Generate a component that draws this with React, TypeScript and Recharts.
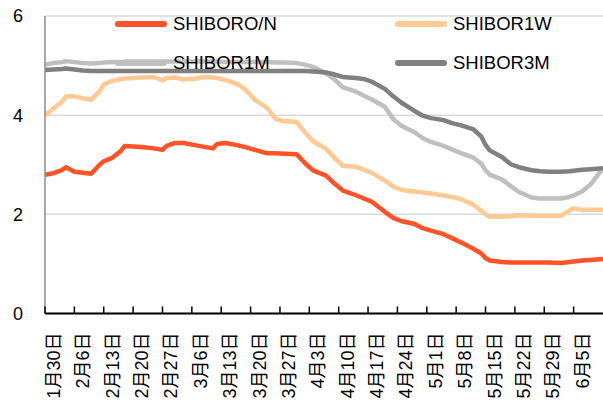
import React from "react";
import { LineChart, Line, XAxis, YAxis, CartesianGrid, Legend } from "recharts";

// Observation dates (2015, month/day)
const dates = [
  "1/30", "2/1", "2/3", "2/4", "2/6", "2/8", "2/10", "2/12", "2/13", "2/15",
  "2/17", "2/18", "2/20", "2/22", "2/25", "2/27", "2/28", "3/2", "3/4", "3/7",
  "3/9", "3/11", "3/12", "3/14", "3/17", "3/19", "3/21", "3/24", "3/26", "3/28",
  "3/31", "4/2", "4/4", "4/7", "4/9", "4/11", "4/14", "4/16", "4/18", "4/21",
  "4/23", "4/25", "4/28", "4/30", "5/2", "5/5", "5/7", "5/9", "5/12", "5/14",
  "5/15", "5/16", "5/19", "5/21", "5/23", "5/26", "5/28", "5/30", "6/2", "6/4",
  "6/5", "6/7", "6/9", "6/12",
];

const shiborON = [
  2.80, 2.83, 2.89, 2.95, 2.86, 2.84, 2.82, 3.00, 3.07, 3.14,
  3.27, 3.38, 3.37, 3.36, 3.33, 3.30, 3.38, 3.44, 3.44, 3.39,
  3.36, 3.33, 3.42, 3.44, 3.39, 3.35, 3.30, 3.23, 3.23, 3.22,
  3.21, 3.03, 2.88, 2.78, 2.62, 2.48, 2.39, 2.32, 2.25, 2.05,
  1.93, 1.86, 1.81, 1.72, 1.67, 1.60, 1.52, 1.44, 1.31, 1.21,
  1.12, 1.07, 1.04, 1.03, 1.03, 1.03, 1.03, 1.03, 1.02, 1.04,
  1.05, 1.07, 1.08, 1.10,
];

const shibor1W = [
  4.00, 4.13, 4.27, 4.38, 4.38, 4.34, 4.31, 4.48, 4.62, 4.69,
  4.73, 4.74, 4.75, 4.76, 4.77, 4.70, 4.75, 4.76, 4.72, 4.74,
  4.77, 4.76, 4.75, 4.71, 4.62, 4.50, 4.31, 4.14, 3.92, 3.88,
  3.86, 3.65, 3.47, 3.32, 3.14, 2.98, 2.96, 2.90, 2.83, 2.68,
  2.56, 2.49, 2.46, 2.44, 2.42, 2.38, 2.35, 2.31, 2.20, 2.07,
  2.00, 1.95, 1.95, 1.96, 1.98, 1.97, 1.97, 1.97, 1.97, 2.08,
  2.12, 2.09, 2.09, 2.09,
];

const shibor1M = [
  5.02, 5.05, 5.07, 5.09, 5.07, 5.05, 5.04, 5.05, 5.06, 5.07,
  5.07, 5.08, 5.08, 5.08, 5.08, 5.08, 5.08, 5.08, 5.08, 5.08,
  5.08, 5.08, 5.08, 5.07, 5.07, 5.07, 5.07, 5.07, 5.06, 5.06,
  5.05, 5.02, 4.97, 4.84, 4.72, 4.56, 4.48, 4.39, 4.31, 4.17,
  3.92, 3.78, 3.66, 3.54, 3.46, 3.38, 3.31, 3.24, 3.15, 3.02,
  2.89, 2.80, 2.70, 2.57, 2.45, 2.34, 2.32, 2.32, 2.32, 2.35,
  2.38, 2.46, 2.60, 2.93,
];

const shibor3M = [
  4.91, 4.92, 4.93, 4.94, 4.92, 4.90, 4.89, 4.89, 4.89, 4.89,
  4.89, 4.89, 4.89, 4.89, 4.89, 4.89, 4.89, 4.89, 4.89, 4.89,
  4.89, 4.89, 4.89, 4.89, 4.89, 4.89, 4.89, 4.89, 4.89, 4.89,
  4.89, 4.89, 4.88, 4.86, 4.82, 4.77, 4.75, 4.73, 4.67, 4.53,
  4.38, 4.25, 4.09, 3.99, 3.94, 3.90, 3.84, 3.80, 3.72, 3.57,
  3.40, 3.29, 3.15, 3.01, 2.95, 2.89, 2.87, 2.86, 2.86, 2.87,
  2.88, 2.90, 2.91, 2.93,
];

const xTickLabels = [
  "1月30日", "2月6日", "2月13日", "2月20日", "2月27日", "3月6日", "3月13日",
  "3月20日", "3月27日", "4月3日", "4月10日", "4月17日", "4月24日", "5月1日",
  "5月8日", "5月15日", "5月22日", "5月29日", "6月5日",
];
const lastDate = "6/12";

const seriesNames = ["SHIBORO/N", "SHIBOR1W", "SHIBOR1M", "SHIBOR3M"];
const seriesColors = ["#FF5226", "#FFC994", "#BFBFBF", "#808080"];
const yTicks = [0, 2, 4, 6];

const YEAR = 2015;
const base = Date.UTC(YEAR, 0, 30);
const dayOf = (m: number, d: number) => Math.round((Date.UTC(YEAR, m - 1, d) - base) / 86400000);
const daySlash = (s: string) => {
  const [m, d] = s.split("/").map(Number);
  return dayOf(m, d);
};
const dayCn = (s: string) => {
  const mm = s.match(/(\d+)月(\d+)日/);
  return mm ? dayOf(Number(mm[1]), Number(mm[2])) : 0;
};

const data = dates.map((d, i) => ({
  day: daySlash(d),
  on: shiborON[i],
  w1: shibor1W[i],
  m1: shibor1M[i],
  m3: shibor3M[i],
}));
const keys = ["on", "w1", "m1", "m3"];

const xTicks = xTickLabels.map(dayCn);
const labelByDay: Record<number, string> = {};
xTickLabels.forEach((l, i) => (labelByDay[xTicks[i]] = l));

const FONT = "'Liberation Sans', Arial, 'Noto Sans CJK SC', sans-serif";

const XTick = (props: any) => {
  const { x, y, payload } = props;
  const label = labelByDay[payload.value] ?? "";
  return (
    <g>
      <line x1={x} x2={x} y1={y - 7} y2={y} stroke="#000" strokeWidth={1.5} />
      <text
        transform={`translate(${x + 15},${y + 19}) rotate(-90)`}
        textAnchor="end"
        fontSize={18}
        fill="#000"
        fontFamily={FONT}
      >
        {label}
      </text>
    </g>
  );
};

const legendPos = [
  { left: 115, top: 13 },
  { left: 395, top: 13 },
  { left: 115, top: 52 },
  { left: 395, top: 52 },
];

const renderLegend = (props: any) => {
  const payload = props.payload || [];
  return (
    <div style={{ position: "relative", width: 603, height: 80 }}>
      {payload.map((p: any, i: number) => {
        const idx = Math.max(0, seriesNames.indexOf(p.value));
        return (
          <div
            key={i}
            style={{
              position: "absolute",
              left: legendPos[idx].left,
              top: legendPos[idx].top,
              height: 22,
              lineHeight: "22px",
              display: "flex",
              alignItems: "center",
              whiteSpace: "nowrap",
            }}
          >
            <div style={{ width: 52, height: 6, borderRadius: 3, background: seriesColors[idx], marginRight: 6 }} />
            <span style={{ fontSize: 18.5, color: "#000", fontFamily: FONT }}>{p.value}</span>
          </div>
        );
      })}
    </div>
  );
};

export default function App() {
  return (
    <div style={{ position: "absolute", left: 0, top: 0, width: 603, height: 409, background: "#fff" }}>
      <LineChart
        width={603}
        height={409}
        data={data}
        margin={{ top: 16, right: 0, bottom: 0, left: 0 }}
        style={{ fontFamily: FONT }}
      >
        <CartesianGrid horizontal vertical={false} stroke="#D9D9D9" strokeWidth={1.5} />
        <XAxis
          type="number"
          dataKey="day"
          domain={[0, daySlash(lastDate)]}
          ticks={xTicks}
          interval={0}
          height={95.5}
          tickSize={0}
          tickMargin={0}
          tickLine={false}
          axisLine={{ stroke: "#000", strokeWidth: 2 }}
          tick={<XTick />}
          allowDataOverflow
        />
        <YAxis
          domain={[0, 6]}
          ticks={yTicks}
          width={45}
          tickSize={0}
          tickMargin={22}
          tickLine={false}
          axisLine={{ stroke: "#8C8C8C", strokeWidth: 1.5 }}
          tick={{ fontSize: 18, fill: "#000", fontFamily: FONT }}
          interval={0}
        />
        <Legend
          layout="horizontal"
          verticalAlign="middle"
          align="center"
          content={renderLegend}
          wrapperStyle={{ position: "absolute", left: 0, top: 0, width: 603, height: 80 }}
        />
        {keys.map((k, i) => (
          <Line
            key={k}
            type="linear"
            dataKey={k}
            name={seriesNames[i]}
            stroke={seriesColors[i]}
            strokeWidth={4.5}
            dot={false}
            activeDot={false}
            strokeLinejoin="round"
            isAnimationActive={false}
          />
        ))}
      </LineChart>
    </div>
  );
}
